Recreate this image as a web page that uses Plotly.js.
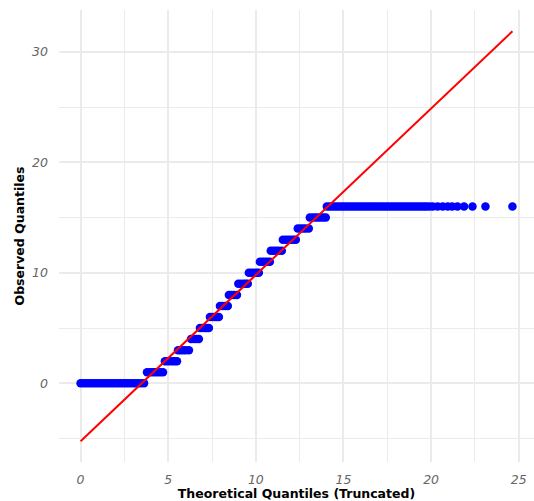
<!DOCTYPE html>
<html>
<head>
<meta charset="utf-8">
<script src="https://cdn.plot.ly/plotly-3.0.1.min.js"></script>
<style>html,body{margin:0;padding:0;background:#fff;}#chart{width:534px;height:501px;}</style>
</head>
<body>
<div id="chart"></div>
<script>
// Theoretical quantiles (x) for each observed value (y)
const theo0  = [0,0.15,0.3,0.45,0.6,0.75,0.9,1.05,1.2,1.35,1.5,1.65,1.8,1.95,2.1,2.25,2.4,2.55,2.7,2.85,3.0,3.15,3.3,3.45,3.62];
const theo1  = [3.79,3.95,4.1,4.25,4.4,4.55,4.7];
const theo2  = [4.81,4.95,5.1,5.25,5.38,5.5];
const theo3  = [5.56,5.7,5.85,6.0,6.18];
const theo4  = [6.3,6.45,6.6,6.75];
const theo5  = [6.81,6.95,7.1,7.2,7.32];
const theo6  = [7.38,7.52,7.65,7.78,7.89];
const theo7  = [7.95,8.1,8.25,8.4];
const theo8  = [8.46,8.6,8.75,8.92];
const theo9  = [9.0,9.15,9.3,9.42,9.54];
const theo10 = [9.6,9.75,9.9,10.05,10.17];
const theo11 = [10.23,10.38,10.52,10.66,10.8];
const theo12 = [10.85,11.0,11.15,11.3,11.48];
const theo13 = [11.54,11.7,11.85,12.0,12.15,12.28];
const theo14 = [12.39,12.55,12.7,12.85,13.02];
const theo15 = [13.08,13.25,13.4,13.55,13.7,13.85,13.99];
const theo16 = [14.05,14.2,14.35,14.5,14.65,14.8,14.95,15.1,15.25,15.4,15.55,15.7,15.85,16.0,16.15,16.3,16.45,16.6,16.75,16.9,17.05,17.2,17.35,17.5,17.65,17.8,17.95,18.1,18.25,18.4,18.55,18.7,18.85,19.0,19.15,19.3,19.45,19.6,19.74,19.9,20.09,20.37,20.66,20.95,21.2,21.5,21.88,22.36,23.1,24.64];
const observedLevels = [0,1,2,3,4,5,6,7,8,9,10,11,12,13,14,15,16];
const theoByLevel = [theo0,theo1,theo2,theo3,theo4,theo5,theo6,theo7,theo8,theo9,theo10,theo11,theo12,theo13,theo14,theo15,theo16];

// Reference line
const lineX = [0, 24.64];
const lineY = [-5.25, 31.86];

const xTicks = [0,5,10,15,20,25];
const yTicks = [0,10,20,30];

const px = [], py = [];
theoByLevel.forEach((arr, i) => arr.forEach(v => { px.push(v); py.push(observedLevels[i]); }));

const traces = [
  {x: px, y: py, type: 'scatter', mode: 'markers',
   marker: {color: '#0000FF', size: 8.5, line: {width: 0}}, hoverinfo: 'skip'},
  {x: lineX, y: lineY, type: 'scatter', mode: 'lines',
   line: {color: '#FF0000', width: 2}, hoverinfo: 'skip'}
];

const tickFont = {family: 'DejaVu Sans', size: 12.5, color: '#666666', style: 'italic'};
const titleFont = {family: 'DejaVu Sans', size: 12.5, color: '#000000', weight: 'bold'};

const layout = {
  width: 534, height: 501,
  margin: {l: 59, r: 0, t: 10, b: 39},
  paper_bgcolor: '#FFFFFF', plot_bgcolor: '#FFFFFF',
  showlegend: false,
  xaxis: {
    range: [-1.232, 25.87],
    tickvals: xTicks, ticktext: xTicks.map(String),
    showgrid: true, gridcolor: '#EBEBEB', gridwidth: 2,
    minor: {dtick: 2.5, tick0: 0, showgrid: true, gridcolor: '#EBEBEB', gridwidth: 1},
    zeroline: false, showline: false, ticks: '',
    tickfont: tickFont, ticklabelstandoff: 8,
    title: {text: 'Theoretical Quantiles (Truncated)', font: titleFont, standoff: 2}
  },
  yaxis: {
    range: [-7.12, 33.78],
    tickvals: yTicks, ticktext: yTicks.map(String),
    showgrid: true, gridcolor: '#EBEBEB', gridwidth: 2,
    minor: {dtick: 5, tick0: 0, showgrid: true, gridcolor: '#EBEBEB', gridwidth: 1},
    zeroline: false, showline: false, ticks: '',
    tickfont: tickFont, ticklabelstandoff: 10,
    title: {text: 'Observed Quantiles', font: titleFont, standoff: 4}
  }
};

Plotly.newPlot('chart', traces, layout, {displayModeBar: false, staticPlot: true});
</script>
</body>
</html>
